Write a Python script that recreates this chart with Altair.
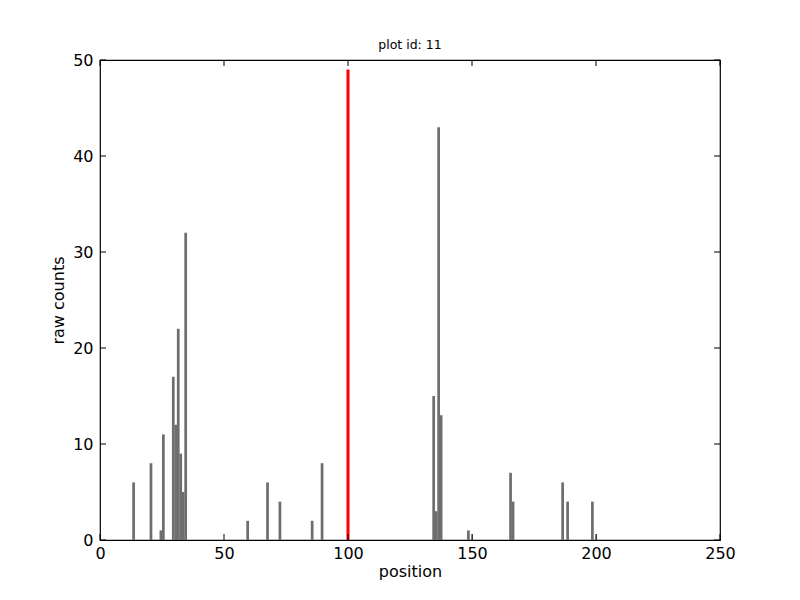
import altair as alt
import pandas as pd

# bar left edges and raw counts
positions = [13, 20, 24, 25, 29, 30, 31, 32, 33, 34,
             59, 67, 72, 85, 89,
             134, 135, 136, 137, 148, 165, 166, 186, 188, 198]
counts = [6, 8, 1, 11, 17, 12, 22, 9, 5, 32,
          2, 6, 4, 2, 8,
          15, 3, 43, 13, 1, 7, 4, 6, 4, 4]
# tiny thin bars
thin_positions = [150, 200]
thin_counts = [0.6, 0.6]
marker_position = [100]
marker_height = [49]
x_ticks = [0, 50, 100, 150, 200, 250]
y_ticks = [0, 10, 20, 30, 40, 50]

W, H = 620, 480
bars = pd.DataFrame({"x": positions, "y": counts})
bars["x2"] = bars["x"] + 1.1
thin = pd.DataFrame({"x": thin_positions, "y": thin_counts})
thin["x2"] = thin["x"] + 0.4
marker = pd.DataFrame({"x": marker_position, "y": marker_height})

xs = alt.Scale(domain=[0, 250], nice=False, zero=False)
ys = alt.Scale(domain=[0, 50], nice=False)

xaxis = alt.Axis(values=x_ticks, tickSize=0, labelPadding=5, grid=False, domain=False,
                 labelFlush=False, labelFontSize=16, titleFontSize=16, titleFontWeight="normal",
                 labelColor="black", titleColor="black", titlePadding=2, labelFont="DejaVu Sans",
                 titleFont="DejaVu Sans")
yaxis = alt.Axis(values=y_ticks, tickSize=0, labelPadding=7, grid=False, domain=False,
                 labelFlush=False, labelFontSize=16, titleFontSize=16, titleFontWeight="normal",
                 labelColor="black", titleColor="black", titlePadding=6, labelFont="DejaVu Sans",
                 titleFont="DejaVu Sans")

base_bars = alt.Chart(bars).mark_rect(color="#6e6e6e").encode(
    x=alt.X("x:Q", scale=xs, axis=xaxis, title="position"),
    x2="x2:Q",
    y=alt.Y("y:Q", scale=ys, axis=yaxis, title="raw counts"),
    y2=alt.datum(0),
)
thin_bars = alt.Chart(thin).mark_rect(color="#6e6e6e").encode(
    x=alt.X("x:Q", scale=xs), x2="x2:Q",
    y=alt.Y("y:Q", scale=ys), y2=alt.datum(0),
)
red = alt.Chart(marker).mark_rule(color="red", strokeWidth=3).encode(
    x=alt.X("x:Q", scale=xs), y=alt.Y("y:Q", scale=ys), y2=alt.datum(0),
)

xt = pd.DataFrame({"t": x_ticks})
yt = pd.DataFrame({"t": y_ticks})
tl = 6
xb = alt.Chart(xt).mark_rule(color="black").encode(
    x=alt.X("t:Q", scale=xs), y=alt.value(H), y2=alt.value(H - tl))
xtop = alt.Chart(xt).mark_rule(color="black").encode(
    x=alt.X("t:Q", scale=xs), y=alt.value(0), y2=alt.value(tl))
yl = alt.Chart(yt).mark_rule(color="black").encode(
    y=alt.Y("t:Q", scale=ys), x=alt.value(0), x2=alt.value(tl))
yr = alt.Chart(yt).mark_rule(color="black").encode(
    y=alt.Y("t:Q", scale=ys), x=alt.value(W), x2=alt.value(W - tl))

chart = alt.layer(base_bars, thin_bars, red, xb, xtop, yl, yr).properties(
    width=W, height=H,
    title=alt.Title("plot id: 11", fontSize=12.5, fontWeight="normal", font="DejaVu Sans",
                    color="black", offset=1),
    autosize=alt.AutoSizeParams(type="none"),
    padding={"left": 92, "top": 52, "right": 60, "bottom": 50},
).configure(background="white").configure_view(stroke="black", strokeWidth=1.2)

chart.save("out.html", embed_options={"renderer": "svg", "actions": False})
